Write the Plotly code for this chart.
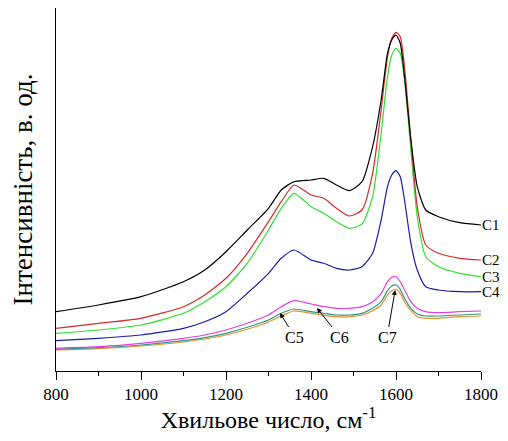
import plotly.graph_objects as go

wavenumber = [800, 900, 1000, 1100, 1150, 1200, 1250, 1300, 1330, 1360, 1400, 1430, 1460,
              1490, 1520, 1545, 1565, 1580, 1590, 1600, 1610, 1620, 1635, 1650, 1670, 1700,
              1750, 1800]

c1 = [59.3, 66, 74.3, 89.3, 101, 119.3, 141, 162.7, 181, 189.3, 191, 192.7, 186, 180.3,
      189.3, 224.3, 271, 317.7, 331, 336, 327.7, 294.3, 231, 184.3, 161, 154.3, 148.3, 146]
c2 = [42.7, 47.7, 52.7, 64.3, 76, 92.7, 117.7, 149.3, 169.3, 186, 176, 172.7, 162.7, 155,
      161, 197.7, 261, 314.3, 332.7, 338.7, 334.3, 304.3, 231, 164.3, 126, 117.7, 112.7, 111]
c3 = [37.7, 41, 46, 57.7, 69.3, 84.3, 107.7, 141, 162.7, 177.7, 164.3, 157.7, 149.3, 142.7,
      147, 174.3, 237.7, 294.3, 316, 322.7, 317.7, 291, 221, 154.3, 114.3, 104.3, 97.7, 94.3]
c4 = [30.3, 32.7, 36, 42.7, 49.3, 59.3, 77.7, 97.7, 112.7, 121, 111, 107.7, 102.7, 101,
      104.3, 117.7, 151, 184.3, 196, 200.3, 194.3, 171, 127.7, 101, 84.3, 81, 79.3, 79.3]
c6 = [22.7, 24.3, 27.7, 32.7, 36, 41, 47.7, 56, 64.3, 70.3, 67, 64.3, 62.7, 62.7, 64.3,
      69.3, 77.7, 89.3, 93.7, 94.3, 89.3, 81, 69.3, 62.7, 59.3, 58.3, 59.3, 60]
c5 = [21.7, 23.3, 26, 30.3, 33.3, 37.7, 43.7, 51, 57.7, 62, 59.3, 57.7, 56, 56, 57.7,
      62.7, 69.3, 80.3, 85, 86, 81.7, 72.7, 62.7, 57, 55, 55, 56, 57]
c7 = [21, 22.3, 25, 29, 32, 36, 41.7, 49, 55, 60, 57.7, 55.7, 54.3, 54.3, 56, 60.3, 66,
      76, 80.3, 81.7, 77.7, 69.3, 60.3, 54.3, 52.7, 52.7, 54.3, 55]

series_names = ["C1", "C2", "C3", "C4", "C5", "C6", "C7"]
series_values = [c1, c2, c3, c4, c5, c6, c7]
series_colors = ["#000000", "#d42a2a", "#2ee02e", "#1c1caa", "#2a9a8a", "#e040e0", "#e8902a"]

# labels with arrows: (name, text x, text y, arrow head x, arrow head y)
arrow_labels = [("C5", 1362, 34, 1327, 58), ("C6", 1468, 34, 1414, 63), ("C7", 1579, 34, 1598, 81)]

tick_vals = [800, 1000, 1200, 1400, 1600, 1800]
tick_text = ["800", "1000", "1200", "1400", "1600", "1800"]

font_family = "Times New Roman, Liberation Serif, serif"

fig = go.Figure()
order = [6, 4, 5, 3, 2, 1, 0]
for i in order:
    fig.add_trace(go.Scatter(x=wavenumber, y=series_values[i], mode="lines",
                             name=series_names[i],
                             line=dict(color=series_colors[i], width=1.2, shape="spline", smoothing=0.6),
                             showlegend=False))

annotations = []
for i in range(4):
    annotations.append(dict(x=wavenumber[-1], y=series_values[i][-1], xref="x", yref="y",
                            text=series_names[i], showarrow=False, xanchor="left", yanchor="middle",
                            xshift=0, borderpad=0,
                            font=dict(family=font_family, size=15, color="#000000")))
for name, tx, ty, hx, hy in arrow_labels:
    annotations.append(dict(x=hx, y=hy, ax=tx, ay=ty, xref="x", yref="y", axref="x", ayref="y",
                            text=name, showarrow=True, arrowhead=2, arrowsize=1, arrowwidth=1,
                            arrowcolor="#000000", standoff=0,
                            font=dict(family=font_family, size=16, color="#000000")))

# the page body has an 8px margin, so the figure is sized to fit the 508x441 window
fig.update_layout(
    width=492, height=425,
    margin=dict(l=48, r=19, t=0, b=62),
    paper_bgcolor="white", plot_bgcolor="white",
    font=dict(family=font_family, color="#000000"),
    annotations=annotations,
    xaxis=dict(range=[800, 1800], tickvals=tick_vals, ticktext=tick_text, automargin=False,
               ticks="outside", ticklen=8, tickwidth=1, tickcolor="#000000",
               minor=dict(ticks="outside", ticklen=4, dtick=100, tick0=800, tickcolor="#000000"),
               showline=True, linecolor="#000000", linewidth=1, showgrid=False, zeroline=False,
               tickfont=dict(family=font_family, size=17, color="#000000"),
               title=dict(text="Хвильове число, см<sup>-1</sup>", standoff=18,
                          font=dict(family=font_family, size=24, color="#000000"))),
    yaxis=dict(range=[0, 363], showticklabels=False, ticks="", showline=True, automargin=False,
               linecolor="#000000", linewidth=1, showgrid=False, zeroline=False,
               title=dict(text="Інтенсивність, в. од.", standoff=14,
                          font=dict(family=font_family, size=27, color="#000000"))),
)

fig.write_html("out.html")
